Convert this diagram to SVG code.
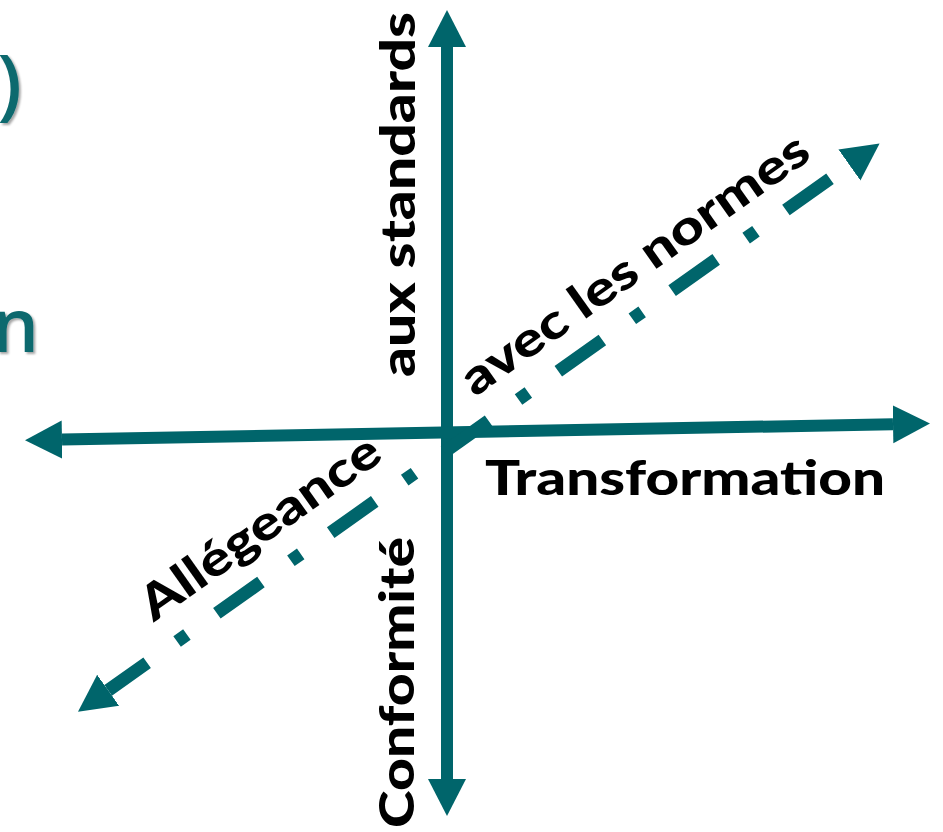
<svg xmlns="http://www.w3.org/2000/svg" width="943" height="832" viewBox="0 0 943 832">
  <style>
    .axis { fill: none; stroke: #00656B; stroke-width: 12; }
    .diag { fill: none; stroke: #00656B; stroke-width: 13; stroke-dasharray: 54 36.75 12 36.75; stroke-dashoffset: 6.25; }
    .lbl { font-family: Lato, "Open Sans", "Liberation Sans", sans-serif; font-weight: 900; font-size: 48px; fill: #000; }
    .title { font-family: "Open Sans", "Liberation Sans", sans-serif; font-weight: 600; fill: #11696E; filter: url(#shadow); }
  </style>
  <defs>
    <marker id="ah" viewBox="0 -20 38 40" refX="0" refY="0" markerWidth="38" markerHeight="40" markerUnits="userSpaceOnUse" orient="auto-start-reverse">
      <path d="M0,-19 L37,0 L0,19 z" fill="#00656B"/>
    </marker>
    <filter id="shadow" x="-20%" y="-20%" width="140%" height="140%">
      <feDropShadow dx="2" dy="2" stdDeviation="1.2" flood-color="#000" flood-opacity="0.35"/>
    </filter>
  </defs>

  <g id="title-fragments">
    <text class="title" x="22" y="111" font-size="78" text-anchor="end">)</text>
    <text class="title" x="39" y="352" font-size="74" text-anchor="end">n</text>
  </g>

  <g id="connectors">
    <path id="axis-vertical" class="axis" d="M447,779 L447,47" marker-start="url(#ah)" marker-end="url(#ah)"/>
    <path id="axis-horizontal" class="axis" d="M62,439.6 L893,424.2" marker-start="url(#ah)" marker-end="url(#ah)"/>
    <path id="axis-diagonal" class="diag" d="M108.16,690.34 L849.4,164.95" marker-start="url(#ah)" marker-end="url(#ah)"/>
  </g>

  <g id="label-aux-standards">
    <text class="lbl" transform="translate(415,377) rotate(-90)" textLength="365" lengthAdjust="spacingAndGlyphs">aux standards</text>
  </g>
  <g id="label-conformite">
    <text class="lbl" transform="translate(414,828) rotate(-90)" textLength="291" lengthAdjust="spacingAndGlyphs">Conformité</text>
  </g>
  <g id="label-transformation">
    <text class="lbl" x="485" y="495" textLength="400" lengthAdjust="spacingAndGlyphs">Transformation</text>
  </g>
  <g id="label-avec-les-normes">
    <text class="lbl" transform="translate(474.8,397.4) rotate(-35.3)" textLength="415" lengthAdjust="spacingAndGlyphs">avec les normes</text>
  </g>
  <g id="label-allegeance">
    <text class="lbl" transform="translate(153.8,622.4) rotate(-35.3)" textLength="283" lengthAdjust="spacingAndGlyphs">Allégeance</text>
  </g>
</svg>
